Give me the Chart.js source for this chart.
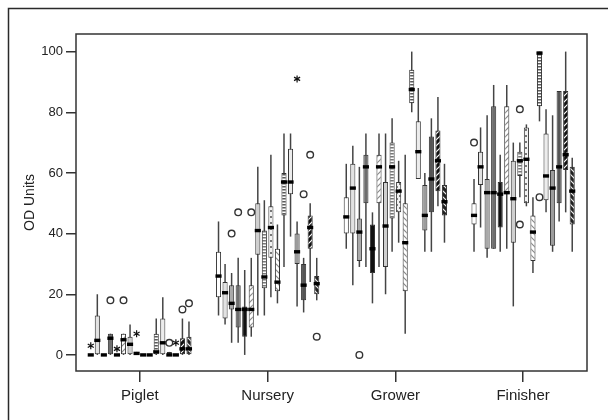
<!DOCTYPE html>
<html>
<head>
<meta charset="utf-8">
<script src="https://cdn.jsdelivr.net/npm/chart.js@4.4.0/dist/chart.umd.min.js"></script>
<style>
  html, body { margin: 0; padding: 0; background: #fff; }
  #wrap { position: relative; width: 608px; height: 420px; }
</style>
</head>
<body>
<div id="wrap"><canvas id="chart_1" width="608" height="420"></canvas></div>
<script>
// stages on the x axis
const stages = ['Piglet', 'Nursery', 'Grower', 'Finisher'];
const yTicks = [0, 20, 40, 60, 80, 100];

// one entry per series: [lower whisker, q1, median, q3, upper whisker]
const piglet = [
    [0, 0, 0, 0, 0], [0, 0, 4.8, 13, 20], [0, 0, 0, 0, 0], [0, 0, 5.5, 7, 7],
    [0, 0, 0, 0, 0], [0, 0, 5, 7, 7], [0, 0, 3.5, 6, 10], [0, 0, 0.5, 1, 1],
    [0, 0, 0, 0, 0], [0, 0, 0, 0, 0], [0, 0, 1, 7, 12], [0, 0, 4, 12, 19],
    [0, 0, 0, 1, 1], [0, 0, 0, 0, 0], [0, 0, 2, 5.5, 12], [0, 0, 2, 6, 11]
];
const nursery = [
    [13, 19, 26, 34, 44], [10, 12, 20.5, 24, 30], [4, 15, 17, 23, 27], [4, 9, 15, 23, 32],
    [0, 6, 15, 16, 28], [6, 9, 15, 23, 32], [13, 33, 41, 50, 62], [13, 22, 25.7, 41, 51],
    [19, 32, 42, 49, 66], [17, 21, 24, 35, 43], [29, 46, 57, 60, 73], [39, 53, 57, 68, 73],
    [16, 30, 34, 40, 44], [14, 18, 23, 30, 32], [24, 35, 42, 46, 50], [18, 20, 23.5, 26, 32]
];
const grower = [
    [35, 40, 45.5, 52, 63], [23, 40, 55, 63, 69], [29, 31, 40.5, 45, 62], [29, 50, 62, 66, 73],
    [17, 27, 35, 43, 47], [29, 50, 62, 66, 73], [20, 29, 42.5, 57, 73], [34, 45, 62, 70, 78],
    [37, 47, 54, 57, 64], [7, 21, 37, 50, 66], [80, 83, 87.5, 94, 100], [58, 58, 67, 77, 88],
    [34, 41, 46, 56, 60], [34, 47, 58, 72, 78], [49, 54, 64, 74, 85], [37, 46, 50.5, 56, 63]
];
const finisher = [
    [34, 43, 46, 50, 58], [42, 56, 62, 67, 75], [32, 35, 53.5, 58, 79], [35, 35, 53.5, 82, 89],
    [34, 42, 53, 57, 66], [35, 53, 53.5, 82, 89], [16, 37, 51.5, 64, 70], [52, 59, 64, 67, 70],
    [49, 50, 64.5, 75, 76], [27, 31, 40.5, 46, 52], [77, 82, 99.5, 100, 100], [47, 51, 59, 73, 81],
    [34, 36, 55, 61, 79], [44, 50, 62, 87, 87], [47, 61, 66, 87, 100], [34, 43, 54, 62, 65]
];

// outliers: [series index, value, marker]
const pigletOut = [[0, 3, 'star'], [3, 18, 'o'], [4, 2, 'star'], [5, 18, 'o'], [7, 7, 'star'],
    [12, 4, 'o'], [13, 4, 'star'], [14, 15, 'o'], [15, 17, 'o']];
const nurseryOut = [[2, 40, 'o'], [3, 47, 'o'], [5, 47, 'o'], [12, 91, 'star'], [13, 53, 'o'],
    [14, 66, 'o'], [15, 6, 'o']];
const growerOut = [[2, 0, 'o']];
const finisherOut = [[0, 70, 'o'], [7, 81, 'o'], [7, 43, 'o'], [10, 52, 'o']];

const groups = [piglet, nursery, grower, finisher];
const outliers = [pigletOut, nurseryOut, growerOut, finisherOut];

// fill patterns for the 16 series
function makePattern(bg, fg, kind) {
    const c = document.createElement('canvas');
    c.width = 6; c.height = 6;
    const p = c.getContext('2d');
    p.fillStyle = bg;
    p.fillRect(0, 0, 6, 6);
    p.strokeStyle = fg;
    p.fillStyle = fg;
    p.lineWidth = 1.2;
    if (kind === 'diag') {
        p.beginPath(); p.moveTo(0, 6); p.lineTo(6, 0); p.moveTo(-3, 3); p.lineTo(3, -3); p.moveTo(3, 9); p.lineTo(9, 3); p.stroke();
    } else if (kind === 'diag2') {
        p.beginPath(); p.moveTo(0, 0); p.lineTo(6, 6); p.moveTo(-3, 3); p.lineTo(3, 9); p.moveTo(3, -3); p.lineTo(9, 3); p.stroke();
    } else if (kind === 'horiz') {
        p.fillRect(0, 0, 6, 1.5); p.fillRect(0, 3, 6, 1.5);
    } else if (kind === 'dots') {
        p.fillRect(0, 0, 2, 2); p.fillRect(3, 3, 2, 2);
    }
    return document.createElement('canvas').getContext('2d').createPattern(c, 'repeat');
}

const fills = [
    '#ffffff', '#e2e2e2', '#a9a9a9', '#6e6e6e',
    '#111111', makePattern('#ffffff', '#8a8a8a', 'diag'), '#cfcfcf', makePattern('#ffffff', '#777777', 'horiz'),
    makePattern('#f2f2f2', '#777777', 'dots'), makePattern('#ffffff', '#888888', 'diag2'), makePattern('#ffffff', '#5a5a5a', 'horiz'), '#ececec',
    '#9c9c9c', '#555555', makePattern('#111111', '#ffffff', 'diag'), makePattern('#222222', '#eeeeee', 'diag2')
];

const datasets = fills.map((f, i) => ({
    label: 'S' + (i + 1),
    data: groups.map(g => [g[i][1], g[i][3]]),
    backgroundColor: f,
    borderColor: '#333333',
    borderWidth: 1,
    borderSkipped: false,
    categoryPercentage: 0.82,
    barPercentage: 0.78
}));

const boxPlugin = {
    id: 'boxParts',
    beforeDraw(chart) {
        const c = chart.ctx;
        c.save();
        c.strokeStyle = '#2a2a2a';
        c.lineWidth = 1.5;
        c.beginPath();
        c.moveTo(8.5, 420); c.lineTo(8.5, 8.5); c.lineTo(608, 8.5);
        c.stroke();
        c.restore();
    },
    beforeDatasetsDraw(chart) {
        const c = chart.ctx, y = chart.scales.y;
        c.save();
        c.strokeStyle = '#444444';
        c.lineWidth = 1.5;
        chart.data.datasets.forEach((ds, i) => {
            chart.getDatasetMeta(i).data.forEach((el, j) => {
                const s = groups[j][i];
                c.beginPath();
                c.moveTo(el.x, y.getPixelForValue(s[0]));
                c.lineTo(el.x, y.getPixelForValue(s[4]));
                c.stroke();
            });
        });
        c.restore();
    },
    afterDatasetsDraw(chart) {
        const c = chart.ctx, y = chart.scales.y;
        c.save();
        c.fillStyle = '#000000';
        chart.data.datasets.forEach((ds, i) => {
            chart.getDatasetMeta(i).data.forEach((el, j) => {
                const s = groups[j][i];
                const w = el.width + 1;
                c.fillRect(el.x - w / 2, y.getPixelForValue(s[2]) - 1.7, w, 3.4);
            });
        });
        outliers.forEach((list, j) => {
            list.forEach(([i, v, kind]) => {
                const el = chart.getDatasetMeta(i).data[j];
                const py = y.getPixelForValue(v);
                if (kind === 'o') {
                    c.strokeStyle = '#333333';
                    c.lineWidth = 1.4;
                    c.beginPath();
                    c.arc(el.x, py, 3.3, 0, Math.PI * 2);
                    c.stroke();
                } else {
                    c.strokeStyle = '#111111';
                    c.lineWidth = 1.2;
                    c.beginPath();
                    for (let k = 0; k < 3; k++) {
                        const a = Math.PI / 2 + k * Math.PI / 3;
                        c.moveTo(el.x - 3.5 * Math.cos(a), py - 3.5 * Math.sin(a));
                        c.lineTo(el.x + 3.5 * Math.cos(a), py + 3.5 * Math.sin(a));
                    }
                    c.stroke();
                }
            });
        });
        // plot frame
        const a = chart.chartArea;
        c.strokeStyle = '#333333';
        c.lineWidth = 1.5;
        c.strokeRect(a.left, a.top, a.right - a.left, a.bottom - a.top);
        c.restore();
    }
};

const ctx_1 = document.getElementById('chart_1').getContext('2d');
const chart_1 = new Chart(ctx_1, {
    type: 'bar',
    data: { labels: stages, datasets: datasets },
    options: {
        responsive: false,
        animation: false,
        layout: { padding: { left: 22, right: 21, top: 34, bottom: 0 } },
        plugins: { legend: { display: false }, tooltip: { enabled: false } },
        scales: {
            x: {
                offset: true,
                grid: { offset: false, drawOnChartArea: false, tickLength: 11, color: '#333333', lineWidth: 1.5 },
                border: { display: false },
                ticks: { color: '#222222', font: { family: "'Liberation Sans', Arial, sans-serif", size: 15 }, padding: 5 },
                afterFit: s => { s.height = 49; }
            },
            y: {
                min: -5.3,
                max: 105.8,
                afterBuildTicks: s => { s.ticks = yTicks.map(v => ({ value: v })); },
                grid: { drawOnChartArea: false, tickLength: 10, color: '#333333', lineWidth: 1.5 },
                border: { display: false },
                ticks: { color: '#222222', font: { family: "'Liberation Sans', Arial, sans-serif", size: 13 }, padding: 3 },
                title: { display: true, text: 'OD Units', color: '#222222', padding: { top: 0, bottom: 0 },
                    font: { family: "'Liberation Sans', Arial, sans-serif", size: 14 } },
                afterFit: s => { s.width = 54; }
            }
        }
    },
    plugins: [boxPlugin]
});
</script>
</body>
</html>
